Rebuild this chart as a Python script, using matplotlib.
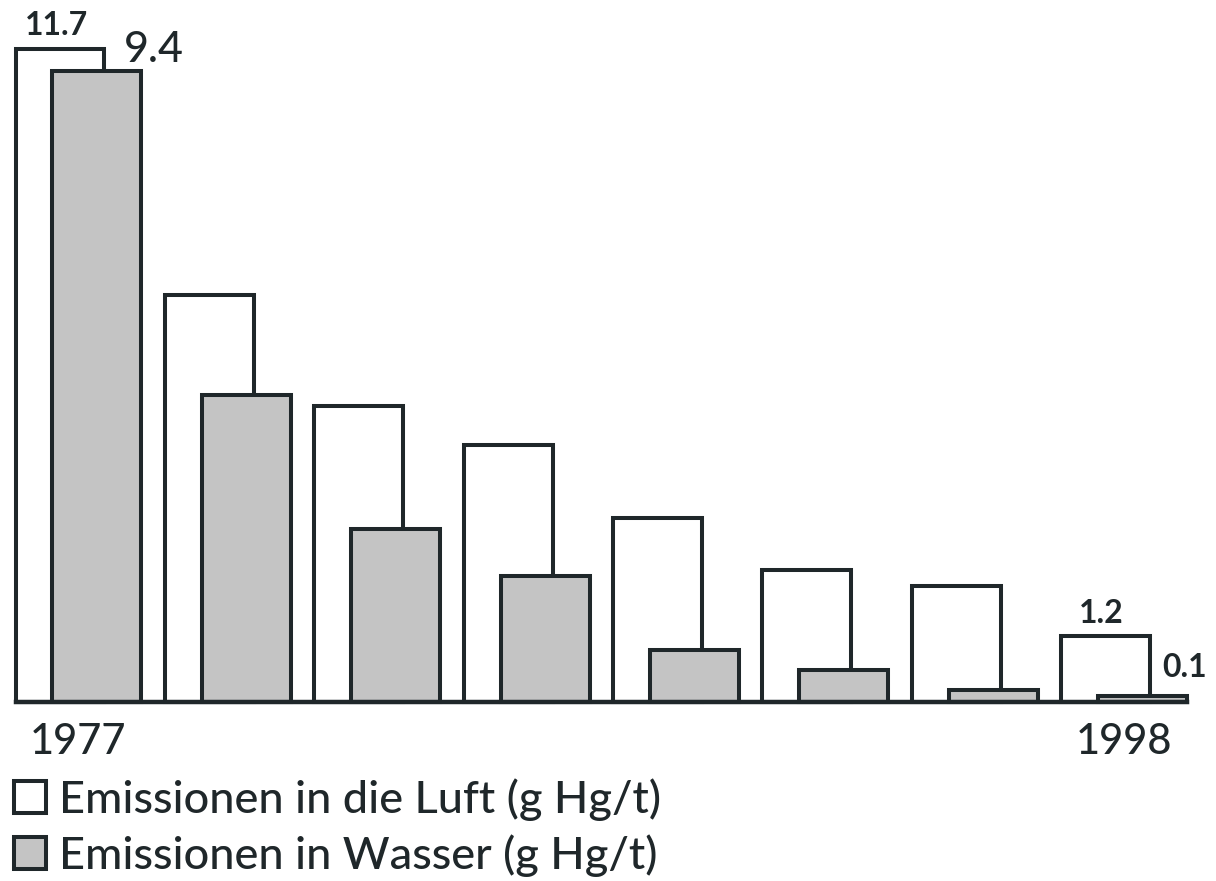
import matplotlib
matplotlib.use("Agg")
import matplotlib.pyplot as plt
import numpy as np

# ---- data ----
groups = np.arange(8)
year_labels = ["1977", "", "", "", "", "", "", "1998"]
air = [11.7, 7.3, 5.3, 4.6, 3.3, 2.37, 2.08, 1.18]
water = [11.3, 5.5, 3.1, 2.26, 0.93, 0.57, 0.22, 0.1]
air_label_first, air_label_last = "11.7", "1.2"
water_label_first, water_label_last = "9.4", "0.1"
legend_labels = ["Emissionen in die Luft (g Hg/t)", "Emissionen in Wasser (g Hg/t)"]

# ---- style ----
DARK = "#1f272a"
GRAY = "#c4c4c4"
plt.rcParams["font.family"] = ["Lato", "DejaVu Sans"]
plt.rcParams["text.color"] = DARK

W, H = 1216, 881
fig = plt.figure(figsize=(W / 100, H / 100), dpi=100)
ax = fig.add_axes([0, 0, 1, 1])

# pixel geometry -> data limits
step_px = 149.36
x0_px = 60.0
base_px = 702.0
unit_px = 55.8
ax.set_xlim(-x0_px / step_px, (W - x0_px) / step_px)
ax.set_ylim(-(H - base_px) / unit_px, base_px / unit_px)

width = 89 / step_px
offset = 37 / step_px
lw = 2.9

b_air = ax.bar(groups, air, width=width, color="white", edgecolor=DARK,
               linewidth=lw, zorder=2, joinstyle="miter")
b_water = ax.bar(groups + offset, water, width=width, color=GRAY, edgecolor=DARK,
                 linewidth=lw, zorder=3, joinstyle="miter")

# baseline
left = groups[0] - width / 2
right = groups[-1] + offset + width / 2
ax.hlines(0, left, right, color=DARK, linewidth=3.2, zorder=4, capstyle="projecting")

# value labels
ax.annotate(air_label_first, (groups[0], air[0]), xytext=(-3, 14), textcoords="offset pixels",
            ha="center", va="baseline", fontsize=23, fontweight="bold", color=DARK)
ax.annotate(water_label_first, (groups[0] + offset + width / 2, water[0]), xytext=(-18, 9),
            textcoords="offset pixels", ha="left", va="baseline", fontsize=31,
            fontweight="medium", color=DARK)
ax.annotate(air_label_last, (groups[-1], air[-1]), xytext=(-4, 13), textcoords="offset pixels",
            ha="center", va="baseline", fontsize=23, fontweight="bold", color=DARK)
ax.annotate(water_label_last, (groups[-1] + offset + width / 2, water[-1]), xytext=(-25, 19),
            textcoords="offset pixels", ha="left", va="baseline", fontsize=23,
            fontweight="bold", color=DARK)

# year labels as ticks at group centres, axis placed on the baseline
centers = groups + offset / 2
tick_idx = [i for i, t in enumerate(year_labels) if t]
ax.spines["bottom"].set_position(("data", 0))
ax.set_xticks(centers[tick_idx])
ax.set_xticklabels([year_labels[i] for i in tick_idx], fontsize=30, fontweight="medium",
                   color=DARK)
ax.tick_params(axis="x", length=0, pad=15)
ax.set_yticks([])
for s in ax.spines.values():
    s.set_visible(False)

leg = fig.legend([b_air, b_water], legend_labels, loc="upper left",
                 bbox_to_anchor=(14 / W, 1 - 778 / H), frameon=False, fontsize=32.5,
                 handlelength=0.7, handleheight=0.7, handletextpad=0.3,
                 labelspacing=0.3, borderpad=0, borderaxespad=0)
for t in leg.get_texts():
    t.set_color(DARK)
    t.set_fontweight("medium")

fig.savefig("out.png", dpi=100)
